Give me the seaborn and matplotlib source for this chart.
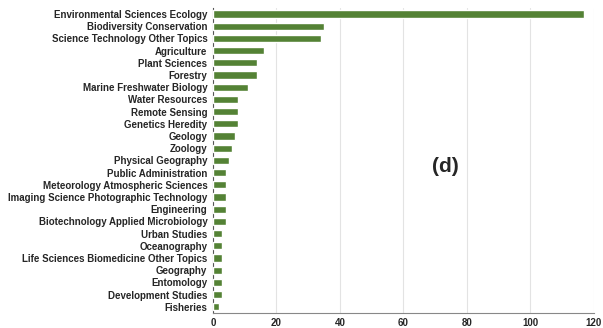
import matplotlib
matplotlib.use("Agg")
import matplotlib.pyplot as plt
import seaborn as sns
import pandas as pd

categories = [
    "Environmental Sciences Ecology", "Biodiversity Conservation",
    "Science Technology Other Topics", "Agriculture", "Plant Sciences",
    "Forestry", "Marine Freshwater Biology", "Water Resources",
    "Remote Sensing", "Genetics Heredity", "Geology", "Zoology",
    "Physical Geography", "Public Administration",
    "Meteorology Atmospheric Sciences",
    "Imaging Science Photographic Technology", "Engineering",
    "Biotechnology Applied Microbiology", "Urban Studies", "Oceanography",
    "Life Sciences Biomedicine Other Topics", "Geography", "Entomology",
    "Development Studies", "Fisheries",
]
counts = [117, 35, 34, 16, 14, 14, 11, 8, 8, 8, 7, 6, 5, 4, 4, 4, 4, 4,
          3, 3, 3, 3, 3, 3, 2]
xticks = [0, 20, 40, 60, 80, 100, 120]

df = pd.DataFrame({"category": categories, "count": counts})

sns.set_style("white")
plt.rcParams["font.family"] = ["Liberation Sans", "DejaVu Sans"]

fig = plt.figure(figsize=(6.03, 3.28), dpi=100)
ax = fig.add_axes([0.353, 0.046, 0.632, 0.93])
sns.barplot(data=df, x="count", y="category", color="#548235",
            saturation=1, width=0.6, ax=ax, zorder=3)

ax.set_xlim(0, 120)
ax.set_xticks(xticks)
ax.set_xticklabels([str(t) for t in xticks], fontsize=7, fontweight="bold")
ax.set_ylim(len(categories) - 0.5, -0.5)
ax.tick_params(axis="y", labelsize=7, length=0, pad=4)
ax.tick_params(axis="x", length=0, pad=4)
for lab in ax.get_yticklabels():
    lab.set_fontweight("bold")
ax.set_xlabel("")
ax.set_ylabel("")
ax.xaxis.grid(True, color="#e3e3e3", linewidth=0.8, zorder=0)
ax.set_axisbelow(True)
for s in ["top", "right"]:
    ax.spines[s].set_visible(False)
ax.spines["left"].set_color("#555555")
ax.spines["left"].set_linewidth(0.8)
ax.spines["bottom"].set_color("#888888")
ax.spines["bottom"].set_linewidth(0.8)

fig.text(445 / 603, 1 - 167 / 328, "(d)", fontsize=15, fontweight="bold",
         ha="center", va="center")

fig.savefig("out.png", dpi=100)
